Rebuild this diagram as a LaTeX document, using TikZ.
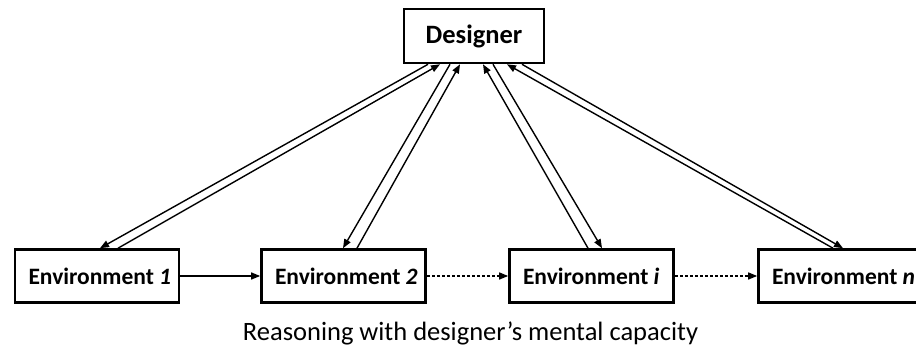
\documentclass[tikz,border=0pt]{standalone}
\usepackage{fontspec}
\setmainfont{Carlito}
\usetikzlibrary{arrows.meta}
\newcommand{\envlabel}[1]{\makebox[137pt][l]{#1}}
\begin{document}
\begin{tikzpicture}[x=1pt,y=-1pt,
  box/.style={draw,line width=2.6pt,minimum height=53pt,inner sep=0pt,font=\fontsize{23.5}{25}\selectfont\bfseries},
  envbox/.style={box,minimum width=164pt},
  conn/.style={line width=1.4pt,-{Triangle[length=9pt,width=7pt]}},
  dotconn/.style={conn,dash pattern=on 3pt off 2pt}]
\useasboundingbox (0,0) rectangle (916,347);
\node[box,minimum width=140pt,minimum height=54pt,font=\fontsize{26.5}{28}\selectfont\bfseries] (d) at (474,36) {Designer};
\node[envbox] (e1) at (97,276) {\envlabel{Environment \textit{1}}};
\node[envbox] (e2) at (343.5,276) {\envlabel{Environment \textit{2}}};
\node[envbox] (ei) at (591.5,276) {\envlabel{Environment \textit{i}}};
\node[envbox] (en) at (840.5,276) {\envlabel{Environment \textit{n}}};
\node[font=\fontsize{26.5}{28}\selectfont] (cap) at (470.5,333) {Reasoning with designer’s mental capacity};
% pair 1
\draw[conn] ([xshift=21pt]e1.north) -- ([xshift=-34pt]d.south);
\draw[conn] ([xshift=-46pt]d.south) -- ([xshift=3pt]e1.north);
% pair 2
\draw[conn] ([xshift=13.5pt]e2.north) -- ([xshift=-14pt]d.south);
\draw[conn] ([xshift=-24pt]d.south) -- ([xshift=-0.5pt]e2.north);
% pair i
\draw[conn] ([xshift=-3.5pt]ei.north) -- ([xshift=9pt]d.south);
\draw[conn] ([xshift=19pt]d.south) -- ([xshift=10.5pt]ei.north);
% pair n
\draw[conn] ([xshift=-7.5pt]en.north) -- ([xshift=33pt]d.south);
\draw[conn] ([xshift=48pt]d.south) -- ([xshift=2.5pt]en.north);
% horizontal
\draw[conn] (e1.east) -- (e2.west);
\draw[dotconn] (e2.east) -- (ei.west);
\draw[dotconn] (ei.east) -- (en.west);
\end{tikzpicture}
\end{document}
